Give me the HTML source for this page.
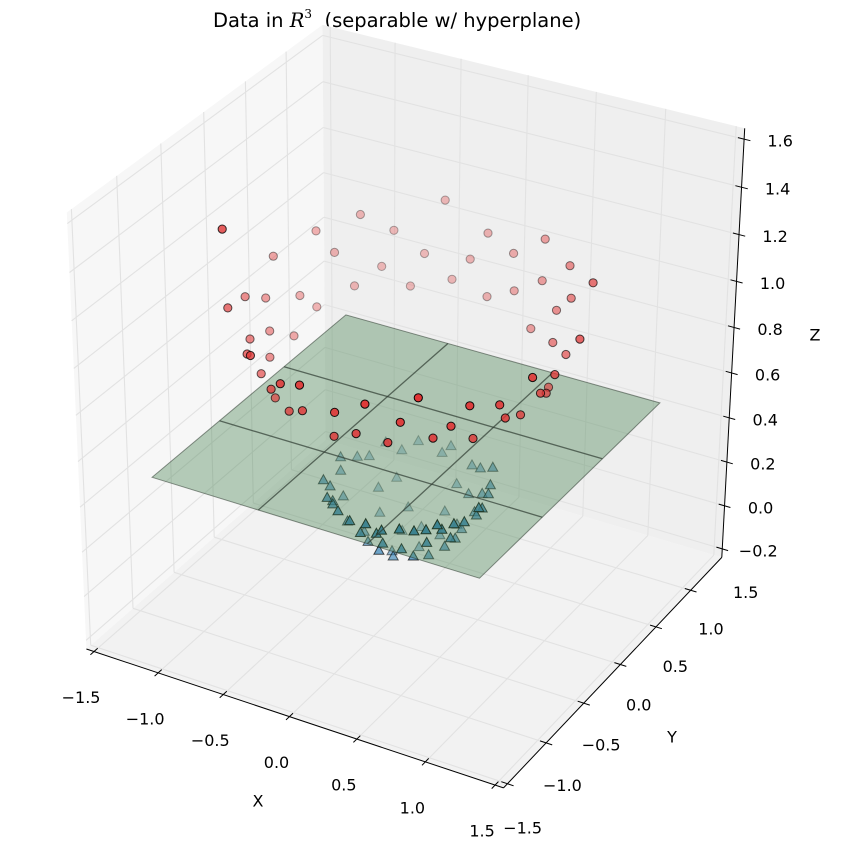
<!DOCTYPE html>
<html>
<head>
<meta charset="utf-8">
<style>
  html, body { margin: 0; padding: 0; background: #ffffff; }
  svg { display: block; font-family: "DejaVu Sans", "Liberation Sans", sans-serif; }
</style>
</head>
<body>
<svg id="chart" width="846" height="846" viewBox="0 0 846 846" xmlns="http://www.w3.org/2000/svg">
  <text x="213" y="27" font-size="19.5" fill="#000">Data in <tspan font-family="'DejaVu Serif', serif" font-style="italic">R</tspan><tspan font-size="12" dy="-9" font-family="'DejaVu Serif', serif">3</tspan><tspan dy="9">&#160;&#160;(separable w/ hyperplane)</tspan></text>
  <g id="panes"></g>
  <g id="grid"></g>
  <g id="axes"></g>
  <g id="tris"></g>
  <g id="plane"></g>
  <g id="reds"></g>
</svg>
<script>
// ---- data ----
const xTicks = [-1.5, -1.0, -0.5, 0.0, 0.5, 1.0, 1.5];
const yTicks = [-1.5, -1.0, -0.5, 0.0, 0.5, 1.0, 1.5];
const zTicks = [-0.2, 0.0, 0.2, 0.4, 0.6, 0.8, 1.0, 1.2, 1.4, 1.6];
const xTickLabels = ["\u22121.5","\u22121.0","\u22120.5","0.0","0.5","1.0","1.5"];
const yTickLabels = ["\u22121.5","\u22121.0","\u22120.5","0.0","0.5","1.0","1.5"];
const zTickLabels = ["\u22120.2","0.0","0.2","0.4","0.6","0.8","1.0","1.2","1.4","1.6"];
const xLim = [-1.56, 1.56];
const yLim = [-1.05, 1.96];
const zLim = [-0.24, 1.645];
const planeZ = 0.5;
const planeGridX = [-1.2, -0.4, 0.4, 1.2];
const planeGridY = [-0.75, 0.05, 0.85, 1.65];

const redX = [1.05,0.95,1.10,0.86,0.91,1.00,0.75,0.79,0.67,0.68,0.47,0.46,0.40,0.25,0.18,0.06,-0.04,-0.12,-0.21,-0.37,-0.42,-0.45,-0.63,-0.64,-0.82,-0.74,-0.88,-0.99,-0.89,-0.97,-1.12,-0.90,-1.05,-0.96,-1.06,-0.86,-0.92,-0.98,-0.75,-0.77,-0.59,-0.63,-0.50,-0.38,-0.33,-0.22,-0.14,-0.02,0.07,0.17,0.30,0.34,0.47,0.62,0.60,0.71,0.83,0.75,0.93,0.90,1.07,0.91,1.00,-0.95];
const redY = [0.45,0.53,0.68,0.73,0.86,1.03,0.98,1.14,1.17,1.32,1.20,1.36,1.50,1.37,1.48,1.35,1.53,1.44,1.36,1.54,1.36,1.23,1.32,1.18,1.21,1.00,0.98,0.93,0.77,0.69,0.61,0.50,0.40,0.30,0.17,0.14,0.00,-0.16,-0.14,-0.27,-0.23,-0.45,-0.42,-0.40,-0.58,-0.50,-0.66,-0.45,-0.59,-0.50,-0.61,-0.40,-0.47,-0.51,-0.29,-0.26,-0.24,-0.05,-0.04,0.09,0.12,0.27,0.36,-0.25];
const redZ = [0.96,0.84,1.05,0.79,0.90,1.17,0.89,1.04,0.96,1.11,0.84,1.00,1.13,0.92,1.04,0.87,1.08,0.98,0.90,1.17,0.98,0.87,1.06,0.94,1.13,0.89,1.02,1.11,0.84,0.90,1.07,0.79,0.96,0.86,1.03,0.81,0.92,1.09,0.84,0.96,0.79,1.03,0.90,0.82,1.00,0.88,1.05,0.79,0.95,0.85,1.03,0.81,0.94,1.08,0.84,0.90,1.00,0.79,0.96,0.86,1.05,0.82,0.90,1.45];

const triX = [0.45,0.50,0.38,0.20,-0.05,-0.30,-0.45,-0.52,-0.48,-0.35,-0.15,0.10,0.30,0.42,0.52,0.25,0.10,-0.15,-0.28,-0.25,-0.05,0.18,0.30,0.05,-0.08,0.40,-0.40,-0.38,0.36,0.55,0.00,-0.55,0.00,0.47,0.28,-0.22,-0.50,-0.50,-0.25,0.22,0.48,0.15,-0.12,-0.18,0.22,0.33,-0.35,-0.30,0.05,0.12,-0.02,0.40,0.44,-0.44,0.00,0.42,0.32,0.15,-0.10,0.05,0.35,-0.40,0.25,-0.28,0.38];
const triY = [0.55,0.30,0.75,0.93,0.97,0.87,0.70,0.45,0.25,0.07,-0.05,-0.07,0.00,0.15,0.50,0.65,0.75,0.70,0.55,0.30,0.15,0.20,0.40,0.50,0.37,0.85,0.83,0.05,0.05,0.40,1.00,0.50,-0.10,0.67,0.90,0.95,0.63,0.20,-0.03,-0.05,0.20,0.60,0.57,0.23,0.33,0.57,0.65,0.17,0.03,0.87,0.65,0.30,0.75,0.35,0.25,0.09,0.13,0.10,0.00,-0.05,0.45,0.15,0.80,0.77,0.65];
const triZ = [0.21,0.27,0.23,0.27,0.27,0.27,0.27,0.27,0.27,0.27,0.27,0.28,0.29,0.27,0.27,0.10,0.10,0.09,0.09,0.09,0.09,0.09,0.09,0.01,0.01,0.32,0.30,0.30,0.29,0.31,0.30,0.31,0.30,0.27,0.28,0.30,0.28,0.31,0.29,0.30,0.29,0.05,0.03,0.08,0.06,0.12,0.16,0.17,0.18,0.19,0.04,0.18,0.28,0.20,0.04,0.31,0.20,0.15,0.21,0.25,0.12,0.25,0.19,0.18,0.18];

// ---- projection (fitted to box corners in normalized cube coordinates) ----
const corr = [
  [0,0,0, 86.7,649.3],
  [1,0,0, 503,788],
  [1,1,0, 722,557],
  [1,1,1, 745,128.6],
  [0,0,1, 67,212],
  [0,1,1, 322,25]
];
function solveLS(rows, rhs) {
  const n = rows[0].length;
  const M = [];
  for (let i = 0; i < n; i++) { M.push(new Array(n + 1).fill(0)); }
  rows.forEach((r, k) => {
    for (let i = 0; i < n; i++) {
      for (let j = 0; j < n; j++) M[i][j] += r[i] * r[j];
      M[i][n] += r[i] * rhs[k];
    }
  });
  for (let i = 0; i < n; i++) M[i][i] += 1e-9;
  for (let c = 0; c < n; c++) {
    let p = c;
    for (let r = c + 1; r < n; r++) if (Math.abs(M[r][c]) > Math.abs(M[p][c])) p = r;
    [M[c], M[p]] = [M[p], M[c]];
    for (let r = 0; r < n; r++) {
      if (r === c) continue;
      const f = M[r][c] / M[c][c];
      for (let k = c; k <= n; k++) M[r][k] -= f * M[c][k];
    }
  }
  return M.map((row, i) => row[n] / row[i]);
}
const rows = [], rhs = [];
corr.forEach(([X,Y,Z,u,v]) => {
  rows.push([X,Y,Z,1,0,0,0,0,-u*X,-u*Y,-u*Z]); rhs.push(u);
  rows.push([0,0,0,0,X,Y,Z,1,-v*X,-v*Y,-v*Z]); rhs.push(v);
});
const P = solveLS(rows, rhs);
function projN(X, Y, Z) {
  const d = P[8]*X + P[9]*Y + P[10]*Z + 1;
  return [(P[0]*X + P[1]*Y + P[2]*Z + P[3]) / d, (P[4]*X + P[5]*Y + P[6]*Z + P[7]) / d];
}
const nx = v => (v - xLim[0]) / (xLim[1] - xLim[0]);
const ny = v => (v - yLim[0]) / (yLim[1] - yLim[0]);
const nz = v => (v - zLim[0]) / (zLim[1] - zLim[0]);
function proj(x, y, z) { return projN(nx(x), ny(y), nz(z)); }
function depthOf(x, y, z) { return -(0.433*nx(x) - 0.75*ny(y) + 0.5*nz(z)); }

const NS = "http://www.w3.org/2000/svg";
function mk(tag, attrs, parent) {
  const e = document.createElementNS(NS, tag);
  for (const k in attrs) e.setAttribute(k, attrs[k]);
  parent.appendChild(e);
  return e;
}
const ptsStr = arr => arr.map(p => p[0].toFixed(1) + "," + p[1].toFixed(1)).join(" ");

// ---- panes ----
const gP = document.getElementById("panes");
let e;
e = mk("polygon", {points: ptsStr([projN(0,0,0),projN(1,0,0),projN(1,1,0),projN(0,1,0)]), fill: "#f2f2f2"}, gP);


e = mk("polygon", {points: ptsStr([projN(0,0,0),projN(0,1,0),projN(0,1,1),projN(0,0,1)]), fill: "#f7f7f7"}, gP);


e = mk("polygon", {points: ptsStr([projN(0,1,0),projN(1,1,0),projN(1,1,1),projN(0,1,1)]), fill: "#efefef"}, gP);



// ---- grid ----
const gG = document.getElementById("grid");
function gline(a, b, name) {
  const l = mk("polyline", {points: ptsStr([a, b]), stroke: "#e2e2e2", "stroke-width": 1.1, fill: "none"}, gG);
  
  
}
xTicks.forEach(t => {
  gline(proj(t,yLim[0],zLim[0]), proj(t,yLim[1],zLim[0]), 'x-grid-line');
  gline(proj(t,yLim[1],zLim[0]), proj(t,yLim[1],zLim[1]), 'x-grid-line');
});
yTicks.forEach(t => {
  if (t < yLim[0]) return;
  gline(proj(xLim[0],t,zLim[0]), proj(xLim[1],t,zLim[0]), 'y-grid-line');
  gline(proj(xLim[0],t,zLim[0]), proj(xLim[0],t,zLim[1]), 'y-grid-line');
});
zTicks.forEach(t => {
  gline(proj(xLim[0],yLim[0],t), proj(xLim[0],yLim[1],t), 'z-grid-line');
  gline(proj(xLim[0],yLim[1],t), proj(xLim[1],yLim[1],t), 'z-grid-line');
});

// ---- axes ----
const gA = document.getElementById("axes");
function aline(a, b, name, w) {
  const l = mk("polyline", {points: ptsStr([a, b]), stroke: "#000", "stroke-width": w || 1, fill: "none"}, gA);
  
  
}
function label(txt, x, y, name, size) {
  const t = mk("text", {x: x, y: y, "font-size": size || 16, "text-anchor": "middle", "dominant-baseline": "central", fill: "#000"}, gA);
  t.textContent = txt;
  
  
}
aline(projN(0,0,0), projN(1,0,0), 'x-axis-line');
aline(projN(1,0,0), projN(1,1,0), 'y-axis-line');
aline(projN(1,1,0), projN(1,1,1), 'z-axis-line');
const dT = 0.014;
xTicks.forEach((t, i) => {
  aline(projN(nx(t), -dT, 0), projN(nx(t), dT, 0), 'x-tick');
  const p = proj(t, yLim[0], zLim[0]);
  label(xTickLabels[i], p[0] - 13, p[1] + 46, 'x-tick-label');
});
yTicks.forEach((t, i) => {
  const p = proj(xLim[1], t, zLim[0]);
  if (t >= yLim[0]) aline(projN(1 - dT, ny(t), 0), projN(1 + dT, ny(t), 0), 'y-tick');
  label(yTickLabels[i], p[0] + 55, p[1] + 2, 'y-tick-label');
});
zTicks.forEach((t, i) => {
  aline(projN(1 - dT, 1, nz(t)), projN(1 + dT, 1, nz(t)), 'z-tick');
  const p = proj(xLim[1], yLim[1], t);
  label(zTickLabels[i], p[0] + 36, p[1] + 2, 'z-tick-label');
});
label("X", 258, 801, 'x-axis-title');
label("Y", 672, 737, 'y-axis-title');
label("Z", 815, 335, 'z-axis-title');

// ---- depth shading helper ----
function alphas(X, Y, Z) {
  const d = X.map((x, i) => depthOf(x, Y[i], Z[i]));
  const lo = Math.min(...d), hi = Math.max(...d);
  return d.map(v => 1 - 0.7 * (v - lo) / (hi - lo || 1));
}

// ---- triangles (class below plane) ----
const gT = document.getElementById("tris");
const ta = alphas(triX, triY, triZ);
const tOrder = triX.map((_, i) => i).sort((a, b) => depthOf(triX[b],triY[b],triZ[b]) - depthOf(triX[a],triY[a],triZ[a]));
tOrder.forEach(i => {
  const p = proj(triX[i], triY[i], triZ[i]);
  const tri = mk("polygon", {
    points: ptsStr([[p[0], p[1] - 5.5], [p[0] - 5, p[1] + 3.5], [p[0] + 5, p[1] + 3.5]]),
    fill: "#2f7fb5", "fill-opacity": ta[i], stroke: "#000", "stroke-opacity": ta[i], "stroke-width": 1
  }, gT);
  
  
});

// ---- hyperplane ----
const gPl = document.getElementById("plane");
const gx0 = planeGridX[0], gx1 = planeGridX[planeGridX.length - 1];
const gy0 = planeGridY[0], gy1 = planeGridY[planeGridY.length - 1];
e = mk("polygon", {points: ptsStr([proj(gx0,gy0,planeZ), proj(gx1,gy0,planeZ), proj(gx1,gy1,planeZ), proj(gx0,gy1,planeZ)]),
  fill: "rgb(77,135,87)", "fill-opacity": 0.4, stroke: "#2e3a30", "stroke-opacity": 0.55, "stroke-width": 1}, gPl);


planeGridX.slice(1, -1).forEach(g => {
  const l1 = mk("polyline", {points: ptsStr([proj(g, gy0, planeZ), proj(g, gy1, planeZ)]), stroke: "#2e3a30", "stroke-opacity": 0.7, "stroke-width": 1.3, fill: "none"}, gPl);
  
  
});
planeGridY.slice(1, -1).forEach(g => {
  const l2 = mk("polyline", {points: ptsStr([proj(gx0, g, planeZ), proj(gx1, g, planeZ)]), stroke: "#2e3a30", "stroke-opacity": 0.7, "stroke-width": 1.3, fill: "none"}, gPl);
  
  
});

// ---- red circles (class above plane) ----
const gR = document.getElementById("reds");
const ra = alphas(redX, redY, redZ);
const rOrder = redX.map((_, i) => i).sort((a, b) => depthOf(redX[b],redY[b],redZ[b]) - depthOf(redX[a],redY[a],redZ[a]));
rOrder.forEach(i => {
  const p = proj(redX[i], redY[i], redZ[i]);
  const c = mk("circle", {cx: p[0].toFixed(1), cy: p[1].toFixed(1), r: 4.1,
    fill: "#e03535", "fill-opacity": ra[i], stroke: "#000", "stroke-opacity": ra[i], "stroke-width": 1}, gR);
  
  
});
</script>
</body>
</html>
